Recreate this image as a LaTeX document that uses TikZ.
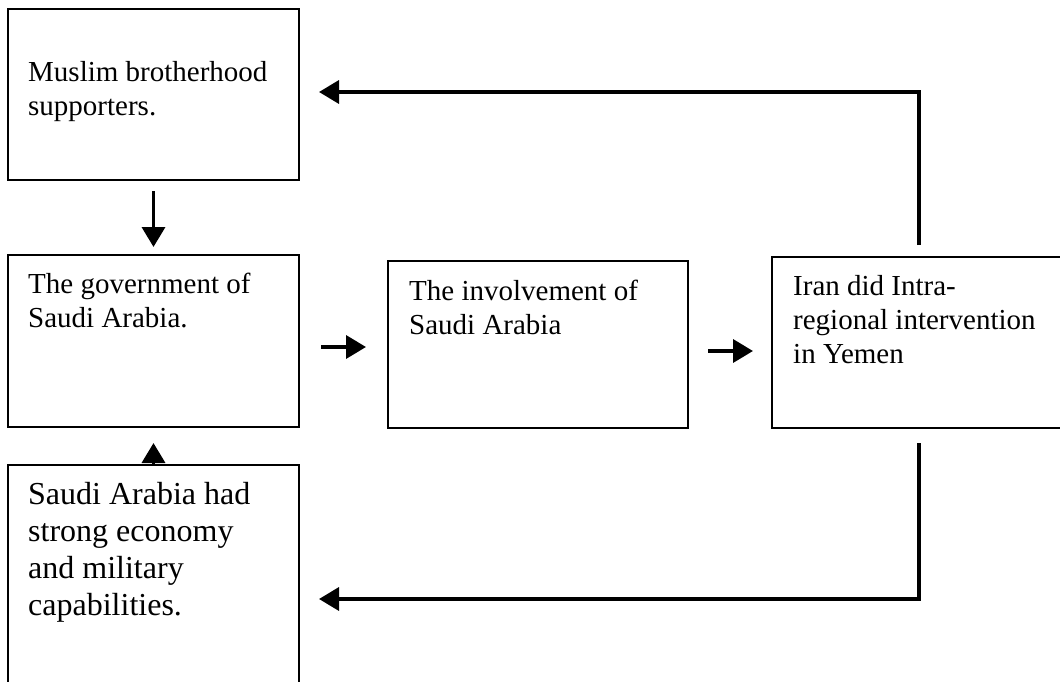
\documentclass[tikz,border=0pt]{standalone}
\usepackage{fontspec}
\setmainfont{Liberation Serif}
\usetikzlibrary{arrows.meta}

\begin{document}
\begin{tikzpicture}[x=1pt,y=-1pt,
  box/.style={draw,line width=2pt,inner sep=0pt},
  txt/.style={inner sep=0pt,align=left,anchor=base west,font=\fontsize{29}{34}\selectfont},
  flow/.style={line width=3.5pt,-{Triangle[length=20pt,width=23pt]}}]
\useasboundingbox (0,0) rectangle (1060,682);
% boxes
\node[box,minimum width=291pt,minimum height=171pt] (msb) at (153.5,94.5) {};
\node[box,minimum width=291pt,minimum height=172pt] (gov) at (153.5,341) {};
\node[box,minimum width=291pt,minimum height=235pt] (eco) at (153.5,582.5) {};
\node[box,minimum width=300pt,minimum height=167pt] (inv) at (538,344.5) {};
\node[box,minimum width=303pt,minimum height=171pt] (iran) at (923.5,342.5) {};
% texts (placed at the baseline of their last line)
\node[txt] (msbtext) at (28,116) {Muslim brotherhood\\supporters.};
\node[txt] (govtext) at (28,327) {The government of\\Saudi Arabia.};
\node[txt,font=\fontsize{32}{37}\selectfont] (ecotext) at (28,615) {Saudi Arabia had\\strong economy\\and military\\capabilities.};
\node[txt] (invtext) at (409,334) {The involvement of\\Saudi Arabia};
\node[txt] (irantext) at (793,363) {Iran did Intra-\\regional intervention\\in Yemen};
% connectors
\coordinate (upc) at (919,92);
\coordinate (dnc) at (919,599);
\draw[flow,shorten <=10pt,shorten >=7pt] (msb.south) -- (gov.north);
\draw[flow,shorten >=15pt] (eco.north) -- (gov.south);
\draw[flow,shorten <=21pt,shorten >=21pt] (gov.east |- 0,347) -- (inv.west |- 0,347);
\draw[flow,shorten <=19pt,shorten >=18pt] (inv.east |- 0,351) -- (iran.west |- 0,351);
\draw[flow,shorten <=11pt,shorten >=19pt] (iran.north -| upc) -- (upc) -- (msb.east |- upc);
\draw[flow,shorten <=14pt,shorten >=19pt] (iran.south -| dnc) -- (dnc) -- (eco.east |- dnc);
\end{tikzpicture}
\end{document}
